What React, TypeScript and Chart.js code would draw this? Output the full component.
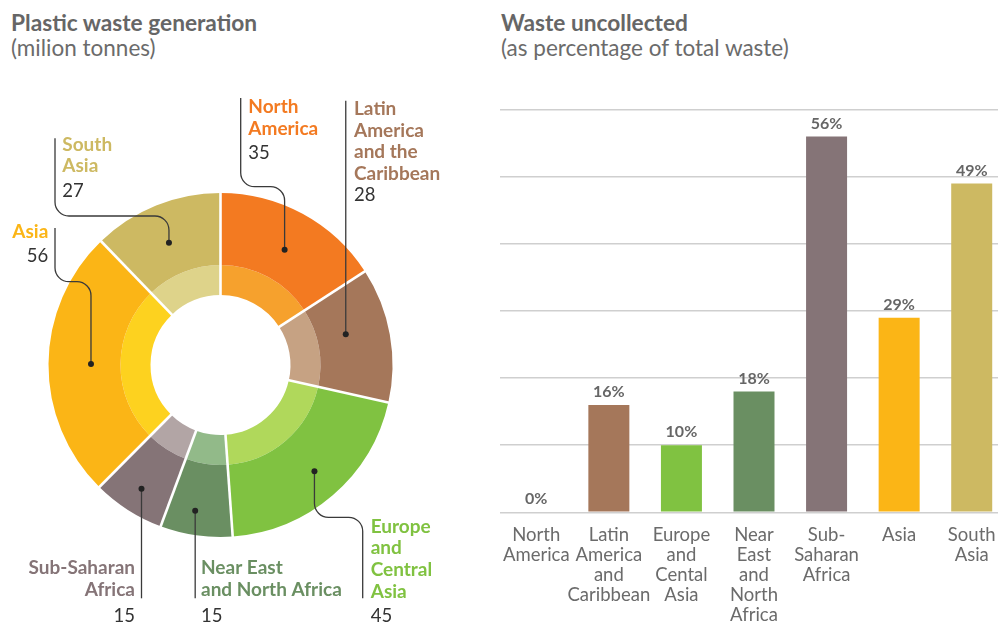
import React, { useEffect, useRef } from 'react';
import { Chart, registerables } from 'chart.js';
Chart.register(...registerables);

// ---------- Data ----------
const REGIONS = [
  'North America',
  'Latin America and the Caribbean',
  'Europe and Central Asia',
  'Near East and North Africa',
  'Sub-Saharan Africa',
  'Asia',
  'South Asia',
];
const WASTE_GENERATION = [35, 28, 45, 15, 15, 56, 27];
const OUTER_COLORS = ['#F37A21', '#A5775A', '#80C241', '#6A8F62', '#857477', '#FBB516', '#CDB962'];
const INNER_COLORS = ['#F6A12D', '#C6A283', '#B0D85B', '#92BA89', '#B2A5A5', '#FDD21F', '#DED38A'];

const BAR_LABELS = [
  ['North', 'America'],
  ['Latin', 'America', 'and', 'Caribbean'],
  ['Europe', 'and', 'Cental', 'Asia'],
  ['Near', 'East', 'and', 'North', 'Africa'],
  ['Sub-', 'Saharan', 'Africa'],
  ['Asia'],
  ['South', 'Asia'],
];
const UNCOLLECTED_PCT = [0, 16, 10, 18, 56, 29, 49];
const BAR_COLORS = ['#F37A21', '#A5775A', '#80C241', '#6A8F62', '#857477', '#FBB516', '#CDB962'];
const Y_MIN = 0;
const Y_MAX = 60;
const Y_STEP = 10;

// ---------- Annotation layout (relative to doughnut centre, px) ----------
type Lbl = {
  lines: string[];
  align: 'left' | 'right';
  tx: number;
  ty: number;
  vx: number;
  vy: number;
  dotAt: number;
  dotR: number;
  kind: 'elbow' | 'vertical';
  ax?: number;
  ay?: number;
  ey?: number;
  endY?: number;
};
const DONUT_LAYOUT: Lbl[] = [
  { lines: ['North', 'America'], align: 'left', tx: 27.8, ty: -251.7, vx: 27.8, vy: -206, dotAt: 0.51, dotR: 0.767, kind: 'elbow', ax: 20.2, ay: -267, ey: -178.3 },
  { lines: ['Latin', 'America', 'and the', 'Caribbean'], align: 'left', tx: 133.5, ty: -250, vx: 133.5, vy: -164.3, dotAt: 0.42, dotR: 0.75, kind: 'vertical', endY: -264.3 },
  { lines: ['Europe', 'and', 'Central', 'Asia'], align: 'left', tx: 150.2, ty: 167.7, vx: 150.2, vy: 256.7, dotAt: 0.49, dotR: 0.825, kind: 'elbow', ax: 142.2, ay: 233.3, ey: 152.3 },
  { lines: ['Near East', 'and North Africa'], align: 'left', tx: -19.5, ty: 209.3, vx: -19.5, vy: 256.7, dotAt: 0.57, dotR: 0.86, kind: 'vertical', endY: 233.3 },
  { lines: ['Sub-Saharan', 'Africa'], align: 'right', tx: -85.5, ty: 209.3, vx: -85.5, vy: 256.7, dotAt: 0.5, dotR: 0.853, kind: 'vertical', endY: 233.3 },
  { lines: ['Asia'], align: 'right', tx: -172.2, ty: -127.3, vx: -172.2, vy: -103.3, dotAt: 0.5, dotR: 0.753, kind: 'elbow', ax: -165.5, ay: -137, ey: -83.3 },
  { lines: ['South', 'Asia'], align: 'left', tx: -158.2, ty: -214.3, vx: -158.2, vy: -168.3, dotAt: 0.48, dotR: 0.771, kind: 'elbow', ax: -165.5, ay: -226.7, ey: -149 },
];

const FONT = 'Lato, "Noto Sans", sans-serif';
Chart.defaults.font.family = FONT;

const donutPlugin = {
  id: 'donutAnnotations',
  afterDatasetsDraw(chart: any) {
    const ctx = chart.ctx;
    const arcs = chart.getDatasetMeta(0).data;
    const inner = chart.getDatasetMeta(1).data;
    if (!arcs.length) return;
    const cx = arcs[0].x;
    const cy = arcs[0].y;
    const R = arcs[0].outerRadius;
    const rIn = inner[0].innerRadius;
    ctx.save();
    // white separators
    ctx.strokeStyle = '#ffffff';
    ctx.lineWidth = 2.6;
    arcs.forEach((a: any) => {
      const ang = a.startAngle;
      ctx.beginPath();
      ctx.moveTo(cx + Math.cos(ang) * (rIn - 1), cy + Math.sin(ang) * (rIn - 1));
      ctx.lineTo(cx + Math.cos(ang) * (R + 1), cy + Math.sin(ang) * (R + 1));
      ctx.stroke();
    });
    DONUT_LAYOUT.forEach((L, i) => {
      const a = arcs[i];
      const ang = a.startAngle + (a.endAngle - a.startAngle) * L.dotAt;
      const r = R * L.dotR;
      const dx = cx + Math.cos(ang) * r;
      const dy = cy + Math.sin(ang) * r;
      ctx.strokeStyle = '#3a3a3a';
      ctx.lineWidth = 1.3;
      ctx.beginPath();
      if (L.kind === 'vertical') {
        ctx.moveTo(dx, dy);
        ctx.lineTo(dx, cy + (L.endY as number));
      } else {
        const ax = cx + (L.ax as number);
        const ay = cy + (L.ay as number);
        const ey = cy + (L.ey as number);
        ctx.moveTo(ax, ay);
        ctx.arcTo(ax, ey, dx, ey, 14);
        ctx.arcTo(dx, ey, dx, dy, 14);
        ctx.lineTo(dx, dy);
      }
      ctx.stroke();
      ctx.fillStyle = '#222';
      ctx.beginPath();
      ctx.arc(dx, dy, 3, 0, Math.PI * 2);
      ctx.fill();
      // text
      ctx.textAlign = L.align;
      ctx.textBaseline = 'alphabetic';
      ctx.fillStyle = OUTER_COLORS[i];
      ctx.font = `bold 19px ${FONT}`;
      L.lines.forEach((t, k) => {
        ctx.fillText(t, cx + L.tx, cy + L.ty + k * 21.7);
      });
      ctx.fillStyle = '#333333';
      ctx.font = `18.5px ${FONT}`;
      ctx.fillText(String(WASTE_GENERATION[i]), cx + L.vx, cy + L.vy);
    });
    ctx.restore();
  },
};

const barLabelPlugin = {
  id: 'barValueLabels',
  afterDatasetsDraw(chart: any) {
    const ctx = chart.ctx;
    const meta = chart.getDatasetMeta(0);
    ctx.save();
    ctx.fillStyle = '#666666';
    ctx.font = `bold 16px ${FONT}`;
    ctx.textAlign = 'center';
    ctx.textBaseline = 'alphabetic';
    meta.data.forEach((bar: any, i: number) => {
      ctx.fillText(UNCOLLECTED_PCT[i] + '%', bar.x, bar.y - 8);
    });
    ctx.restore();
  },
};

export default function App() {
  const donutRef = useRef<HTMLCanvasElement>(null);
  const barRef = useRef<HTMLCanvasElement>(null);

  useEffect(() => {
    const donut = new Chart(donutRef.current as HTMLCanvasElement, {
      type: 'doughnut',
      data: {
        labels: REGIONS,
        datasets: [
          { data: WASTE_GENERATION, backgroundColor: OUTER_COLORS, borderWidth: 0, weight: 72 } as any,
          { data: WASTE_GENERATION, backgroundColor: INNER_COLORS, borderWidth: 0, weight: 30 } as any,
        ],
      },
      options: {
        responsive: false,
        animation: false,
        events: [],
        cutout: '40.7%',
        layout: { padding: { left: 48.5, top: 193, right: 87.5, bottom: 87 } },
        plugins: { legend: { display: false }, tooltip: { enabled: false } },
      },
      plugins: [donutPlugin],
    });

    const bar = new Chart(barRef.current as HTMLCanvasElement, {
      type: 'bar',
      data: {
        labels: BAR_LABELS,
        datasets: [
          {
            data: UNCOLLECTED_PCT,
            backgroundColor: BAR_COLORS,
            borderWidth: 0,
            categoryPercentage: 1,
            barPercentage: 0.565,
          },
        ],
      },
      options: {
        responsive: false,
        animation: false,
        events: [],
        layout: { padding: { left: 0, right: 0, top: 19.7, bottom: 0 } },
        plugins: { legend: { display: false }, tooltip: { enabled: false } },
        scales: {
          x: {
            grid: { display: false, drawTicks: false },
            border: { display: false },
            ticks: {
              color: '#6b6b6b',
              font: { size: 18.5, lineHeight: 1.08 },
              padding: 13,
              autoSkip: false,
              maxRotation: 0,
              minRotation: 0,
            },
            afterFit: (s: any) => {
              s.height = 111.7;
              s.paddingLeft = 0;
              s.paddingRight = 0;
            },
          },
          y: {
            min: Y_MIN,
            max: Y_MAX,
            ticks: { display: false, stepSize: Y_STEP },
            grid: { color: '#cfcfcf', lineWidth: 1.5, drawTicks: false },
            border: { display: false },
            afterFit: (s: any) => {
              s.width = 0;
              s.paddingTop = 0;
              s.paddingBottom = 0;
            },
          },
        },
      },
      plugins: [barLabelPlugin],
    });

    return () => {
      donut.destroy();
      bar.destroy();
    };
  }, []);

  const titleStyle: React.CSSProperties = {
    position: 'absolute',
    fontFamily: FONT,
    fontWeight: 700,
    fontSize: 22.7,
    lineHeight: '22.7px',
    color: '#666666',
    whiteSpace: 'nowrap',
  };
  const subStyle: React.CSSProperties = {
    position: 'absolute',
    fontFamily: FONT,
    fontWeight: 400,
    fontSize: 22.5,
    lineHeight: '22.5px',
    color: '#6b6b6b',
    whiteSpace: 'nowrap',
  };

  return (
    <div
      style={{
        position: 'absolute',
        left: 0,
        top: 0,
        width: 998,
        height: 624,
        overflow: 'hidden',
        background: '#ffffff',
      }}
    >
      <div style={{ ...titleStyle, left: 11, top: 12.4 }}>Plastic waste generation</div>
      <div style={{ ...subStyle, left: 11, top: 37 }}>(milion tonnes)</div>
      <div style={{ ...titleStyle, left: 501, top: 12.4 }}>Waste uncollected</div>
      <div style={{ ...subStyle, left: 501, top: 37 }}>(as percentage of total waste)</div>
      <canvas
        ref={donutRef}
        width={480}
        height={624}
        style={{ position: 'absolute', left: 0, top: 0, width: 480, height: 624 }}
      />
      <canvas
        ref={barRef}
        width={508}
        height={534}
        style={{ position: 'absolute', left: 500, top: 90, width: 508, height: 534 }}
      />
    </div>
  );
}
